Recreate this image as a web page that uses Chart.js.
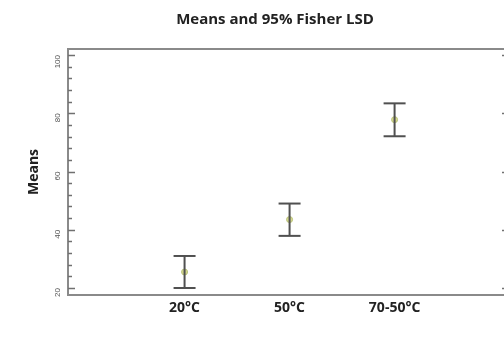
<!DOCTYPE html>
<html>
<head>
<meta charset="utf-8">
<script src="https://cdn.jsdelivr.net/npm/chart.js@4"></script>
<style>
  body { margin: 0; background: #fff; overflow: hidden; }
  #wrap { width: 548px; height: 341px; }
</style>
</head>
<body>
<div id="wrap"><canvas id="myChart" width="548" height="341"></canvas></div>
<script>
// groups and their LSD intervals
var groups = ["20°C", "50°C", "70-50°C"];
var groupPos = [1, 2, 3];
var means = [25.5, 43.5, 77.8];
var lower = [20.0, 37.9, 72.1];
var upper = [31.0, 49.0, 83.4];

var yTicks = [20, 40, 60, 80, 100];
var yMinorStep = 4;

// vertical bar of each interval, broken by gaps
var barPoints = [];
var capPoints = [];
var meanPoints = [];
for (var i = 0; i < groups.length; i++) {
  barPoints.push({x: groupPos[i], y: lower[i]});
  barPoints.push({x: groupPos[i], y: upper[i]});
  barPoints.push({x: groupPos[i] + 0.5, y: null});
  capPoints.push({x: groupPos[i], y: lower[i]});
  capPoints.push({x: groupPos[i], y: upper[i]});
  meanPoints.push({x: groupPos[i], y: means[i]});
}

// frame and inward tick marks like the original plot
var framePlugin = {
  id: 'frame',
  afterDraw: function(chart) {
    var ctx = chart.ctx;
    var a = chart.chartArea;
    var y = chart.scales.y;
    ctx.save();
    ctx.strokeStyle = '#8a8a8a';
    ctx.lineWidth = 2;
    ctx.strokeRect(a.left, a.top, a.right - a.left, a.bottom - a.top);
    ctx.strokeStyle = '#707070';
    ctx.lineWidth = 1.5;
    y.ticks.forEach(function(t) {
      var major = yTicks.indexOf(t.value) >= 0;
      var py = Math.round(y.getPixelForValue(t.value)) + 0.5;
      ctx.beginPath();
      ctx.moveTo(a.left, py);
      ctx.lineTo(a.left + (major ? 7 : 4), py);
      if (major) {
        ctx.moveTo(a.right, py);
        ctx.lineTo(a.right - 6, py);
      }
      ctx.stroke();
    });
    ctx.restore();
  }
};

var ctx = document.getElementById('myChart').getContext('2d');
var chart = new Chart(ctx, {
  type: 'scatter',
  data: {
    datasets: [{
      data: barPoints,
      showLine: true,
      spanGaps: false,
      borderColor: '#505050',
      borderWidth: 2,
      pointRadius: 0
    }, {
      data: capPoints,
      showLine: false,
      pointStyle: 'line',
      pointRadius: 11,
      pointBorderWidth: 2,
      pointBorderColor: '#505050',
      pointBackgroundColor: '#505050'
    }, {
      data: meanPoints,
      showLine: false,
      pointRadius: 3,
      pointBorderWidth: 1,
      pointBorderColor: '#b9c27a',
      pointBackgroundColor: '#d6d98f'
    }]
  },
  options: {
    responsive: false,
    animation: false,
    layout: { padding: { left: 42, right: 40, top: 0, bottom: 20 } },
    plugins: {
      legend: { display: false },
      tooltip: { enabled: false },
      title: {
        display: true,
        text: 'Means and 95% Fisher LSD',
        color: '#222',
        font: { family: 'Open Sans', size: 15, weight: 'bold' },
        padding: { top: 11, bottom: 20 }
      }
    },
    scales: {
      x: {
        type: 'linear',
        min: -0.11,
        max: 4.08,
        grid: { display: false },
        border: { display: false },
        afterBuildTicks: function(scale) {
          scale.ticks = groupPos.map(function(v) { return {value: v}; });
        },
        afterFit: function(scale) { scale.height = 26; },
        ticks: {
          padding: -3,
          color: '#222',
          font: { family: 'Open Sans', size: 14, weight: 'bold' },
          callback: function(v) { return groups[groupPos.indexOf(v)]; }
        }
      },
      y: {
        min: 17.6,
        max: 102.06,
        grid: { display: false, drawTicks: false },
        border: { display: false },
        title: {
          display: true,
          text: 'Means',
          color: '#222',
          font: { family: 'Open Sans', size: 14, weight: 'bold' },
          padding: { top: -16, bottom: 0 }
        },
        afterBuildTicks: function(scale) {
          var t = [];
          for (var v = yTicks[0]; v <= yTicks[yTicks.length - 1]; v += yMinorStep) t.push({value: v});
          scale.ticks = t;
        },
        afterFit: function(scale) { scale.width = 26; },
        ticks: {
          padding: 10,
          minRotation: 90,
          maxRotation: 90,
          autoSkip: false,
          color: '#555',
          font: { family: 'Liberation Sans', size: 8 },
          callback: function(v) { return yTicks.indexOf(v) >= 0 ? String(v) : ''; }
        }
      }
    }
  },
  plugins: [framePlugin]
});
</script>
</body>
</html>
